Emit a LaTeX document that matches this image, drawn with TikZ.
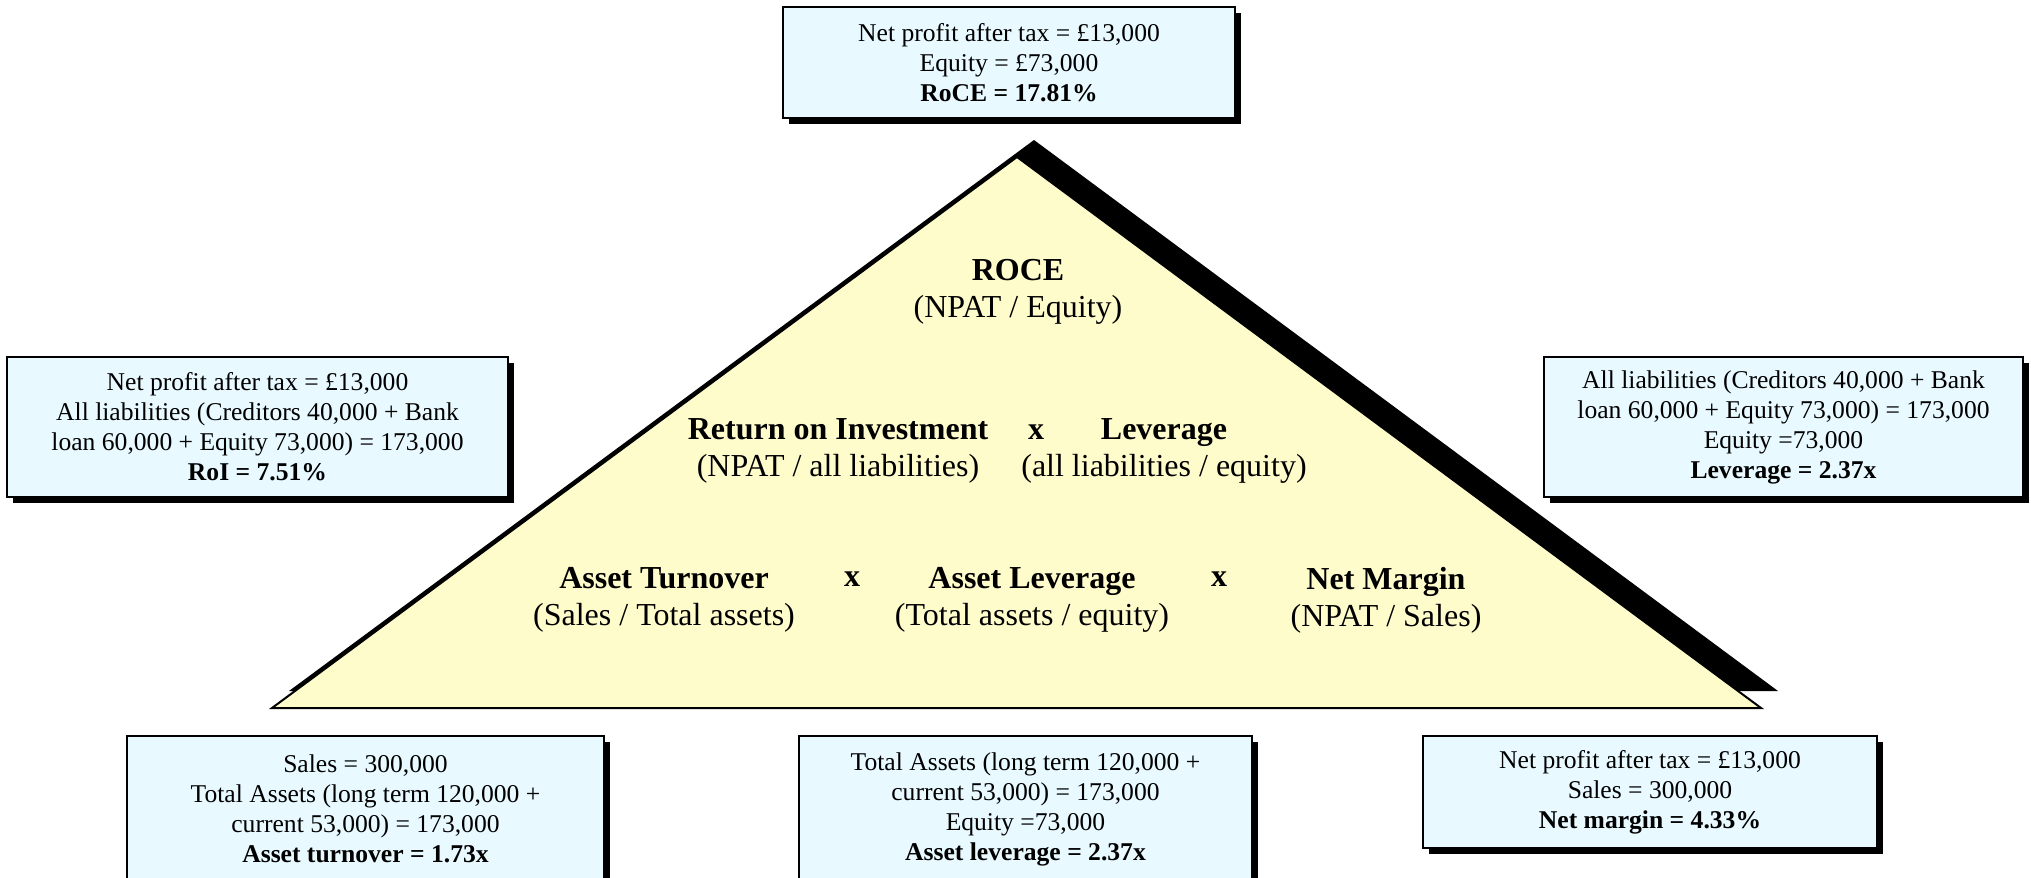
\documentclass[tikz,border=0pt]{standalone}
\usepackage{fontspec}
\setmainfont{Liberation Serif}
\usetikzlibrary{shadows}
\definecolor{boxfill}{RGB}{232,250,255}
\definecolor{trifill}{RGB}{255,252,204}
\begin{document}
\begin{tikzpicture}[x=0.5pt,y=-0.5pt,
  infobox/.style={draw=black, line width=0.8pt, fill=boxfill, align=center, inner sep=0pt,
    font=\fontsize{12.8}{15}\selectfont,
    drop shadow={shadow xshift=2.8pt, shadow yshift=-2.8pt, fill=black, opacity=1}},
  tritext/.style={align=center, font=\fontsize{16}{18.7}\selectfont},
  timesx/.style={font=\fontsize{16}{18}\selectfont\bfseries}]
\clip (0,0) rectangle (2031,878);
% triangle
\coordinate (apex) at (1017,157);
\coordinate (bl) at (272,708);
\coordinate (br) at (1761,708);
\fill[black] ([shift={(17,-17)}]apex) -- ([shift={(17,-17)}]bl) -- ([shift={(17,-17)}]br) -- cycle;
\filldraw[fill=trifill, draw=black, line width=1pt, line join=miter] (apex) -- (bl) -- (br) -- cycle;
% triangle texts
\node[tritext] (roce) at (1018,292) {\textbf{ROCE}\\(NPAT / Equity)};
\node[tritext] (roi) at (838,451) {\textbf{Return on Investment}\\(NPAT / all liabilities)};
\node[timesx] (x1) at (1036,432) {x};
\node[tritext] (lev) at (1164,451) {\textbf{Leverage}\\(all liabilities / equity)};
\node[tritext] (at) at (664,600) {\textbf{Asset Turnover}\\(Sales / Total assets)};
\node[timesx] (x2) at (852,579) {x};
\node[tritext] (al) at (1032,600) {\textbf{Asset Leverage}\\(Total assets / equity)};
\node[timesx] (x3) at (1219,579) {x};
\node[tritext] (nm) at (1386,600) {\textbf{Net Margin}\\(NPAT / Sales)};
% boxes
\node[infobox, minimum width=226pt, minimum height=55.5pt] (top) at (1009,62.5)
  {Net profit after tax = £13,000\\Equity = £73,000\\\textbf{RoCE = 17.81\%}};
\node[infobox, minimum width=250.5pt, minimum height=70pt] (left) at (257.5,427)
  {Net profit after tax = £13,000\\All liabilities (Creditors 40,000 + Bank\\loan 60,000 + Equity 73,000) = 173,000\\\textbf{RoI = 7.51\%}};
\node[infobox, minimum width=239.5pt, minimum height=70pt] (right) at (1783.5,427)
  {All liabilities (Creditors 40,000 + Bank\\loan 60,000 + Equity 73,000) = 173,000\\Equity =73,000\\\textbf{Leverage = 2.37x}};
\node[infobox, minimum width=238.5pt, minimum height=73pt] (bleft) at (365.5,809)
  {Sales = 300,000\\Total Assets (long term 120,000 +\\current 53,000) = 173,000\\\textbf{Asset turnover = 1.73x}};
\node[infobox, minimum width=226.5pt, minimum height=73pt] (bmid) at (1025.5,809)
  {Total Assets (long term 120,000 +\\current 53,000) = 173,000\\Equity =73,000\\\textbf{Asset leverage = 2.37x}};
\node[infobox, minimum width=227pt, minimum height=56pt] (bright) at (1650,792)
  {Net profit after tax = £13,000\\Sales = 300,000\\\textbf{Net margin = 4.33\%}};
\end{tikzpicture}
\end{document}
